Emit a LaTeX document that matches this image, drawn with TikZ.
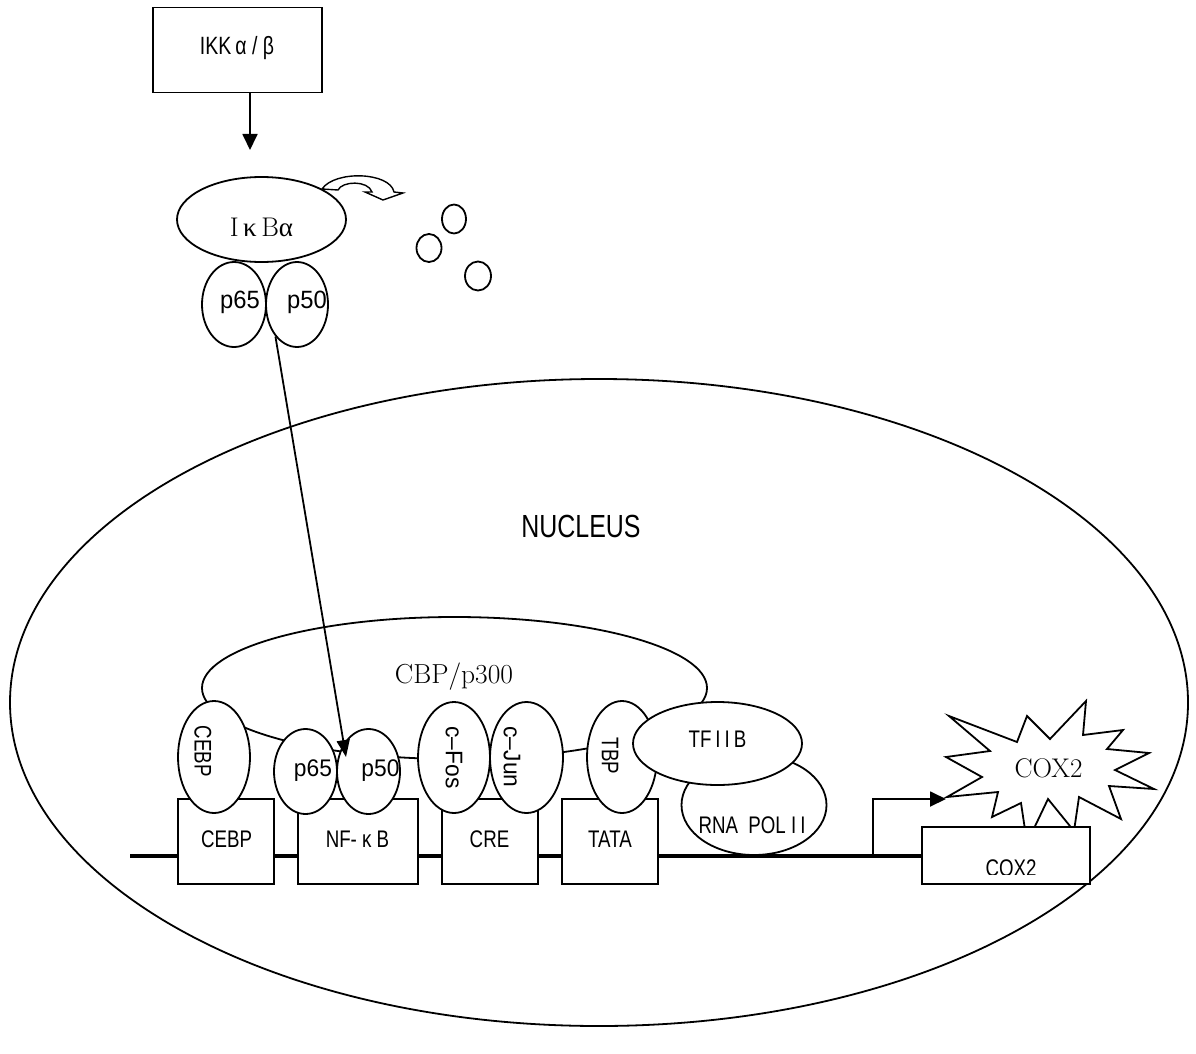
\documentclass[tikz,border=0pt]{standalone}
\usepackage{fontspec}
\usetikzlibrary{arrows.meta,shapes.geometric}
\newfontfamily\gul[FakeStretch=0.78]{Liberation Sans}
\newfontfamily\guld[FakeStretch=0.95]{Liberation Sans}
\newfontfamily\serg{Liberation Serif}
\newcommand\fsz[1]{\fontsize{#1}{#1}\selectfont}
\tikzset{
  ln/.style={line width=1.8pt},
  boxn/.style={draw, ln, fill=white, rectangle, inner sep=0pt},
  ell/.style={draw, ln, fill=white, ellipse, inner sep=0pt},
  lbl/.style={inner sep=0pt, anchor=base},
  rlbl/.style={inner sep=0pt, rotate=-90},
  arr/.style={ln, -{Triangle[width=15pt,length=16pt]}},
  dna/.style={line width=3.6pt},
}
\begin{document}
\begin{tikzpicture}[x=1pt,y=-1pt]
\useasboundingbox (0,0) rectangle (1196,1054);
\fill[white] (0,0) rectangle (1196,1054);

% nucleus
\node[ell, minimum width=1178pt, minimum height=647pt] (nucleus) at (599,702.5) {};
\node[lbl] (nucT) at (581,537) {\gul\fsz{32}NUCLEUS};

% CBP/p300
\node[ell, minimum width=505pt, minimum height=142pt] (cbp) at (454.5,688) {};
\node[lbl] (cbpT) at (454,683) {\fsz{27.5}CBP/p300};

% DNA
\coordinate (dnaL) at (130,856);
\node[boxn, minimum width=168pt, minimum height=57pt] (coxbox) at (1006,855.5) {};
\draw[dna] (dnaL) -- (dnaL -| coxbox.west);
\coordinate (tss) at (873,856);
\coordinate (ptip) at (946,799);
\draw[ln, -{Triangle[width=15pt,length=16pt]}] (tss) |- (ptip);

% promoter boxes
\node[boxn, minimum width=96pt, minimum height=85pt] (cebpbox) at (226,841.5) {};
\node[boxn, minimum width=120pt, minimum height=85pt] (nfkbbox) at (358,841.5) {};
\node[boxn, minimum width=96pt, minimum height=85pt] (crebox) at (490,841.5) {};
\node[boxn, minimum width=96pt, minimum height=85pt] (tatabox) at (610,841.5) {};
\node[lbl] at (226.5,847) {\gul\fsz{24}CEBP};
\node[lbl] at (357.5,847) {\gul\fsz{24}NF- κ B};
\node[lbl] at (489.5,847) {\gul\fsz{24}CRE};
\node[lbl] at (610,847) {\gul\fsz{24}TATA};

% bound proteins
\node[ell, minimum width=72pt, minimum height=112pt] (cebp) at (214,757) {};
\node[ell, minimum width=63pt, minimum height=85pt] (p65b) at (305.5,771.5) {};
\node[ell, minimum width=63pt, minimum height=85pt] (p50b) at (368.5,771.5) {};
\node[ell, minimum width=72pt, minimum height=111pt] (cfos) at (454,757.5) {};
\node[ell, minimum width=73pt, minimum height=111pt] (cjun) at (526.5,757.5) {};
\node[ell, minimum width=70pt, minimum height=112pt] (tbp) at (622,757) {};
\node[ell, minimum width=145pt, minimum height=100pt] (rnapol) at (754,805) {};
\node[ell, minimum width=169pt, minimum height=83pt] (tfiib) at (717.5,743.5) {};

\node[rlbl] (cebpT) at (203,751) {\gul\fsz{24}CEBP};
\node[lbl] (p65bT) at (313,776) {\guld\fsz{24}p65};
\node[lbl] (p50bT) at (380.5,776) {\guld\fsz{24}p50};
\node[rlbl] (cfosT) at (454,757.5) {\guld\fsz{24}c–Fos};
\node[rlbl] (cjunT) at (512,757) {\guld\fsz{24}c–Jun};
\node[rlbl] (tbpT) at (610,756) {\gul\fsz{24}TBP};
\node[lbl] (tfiibT) at (717.5,747) {\gul\fsz{24}TF\,I\,I\,B};
\node[lbl] (rnaT) at (752,833) {\gul\fsz{24}RNA\ \ POL\ I\,I};

% COX2 protein (star)
\draw[ln, fill=white] (949,716) -- (1017,742) -- (1027,716) -- (1050,739) -- (1086,701)
  -- (1083,735) -- (1123,730) -- (1107,749) -- (1149,753) -- (1115,770) -- (1154,789)
  -- (1109,786) -- (1121,819) -- (1079,797) -- (1074,831) -- (1048,799) -- (1027,843)
  -- (1021,803) -- (992,817) -- (998,792) -- (947,797) -- (982,777) -- (946,757)
  -- (990,751) -- cycle;
\node[lbl] (starT) at (1048.5,777) {\fsz{27}COX2};
\node[boxn, minimum width=168pt, minimum height=57pt] (coxbox2) at (1006,855.5) {};
\begin{scope}
  \clip (922,827) rectangle (1090,874);
  \node[lbl] (coxgT) at (1011,876.5) {\gul\fsz{24}COX2};
\end{scope}

% cytoplasm
\node[boxn, minimum width=169pt, minimum height=85pt] (ikk) at (237.5,50) {};
\node[lbl] (ikkT) at (237,55) {\gul\fsz{25}IKK\,α / β};
\coordinate (ikktip) at (250,150);
\draw[arr] (ikk.south -| ikktip) -- (ikktip);

\node[ell, minimum width=64pt, minimum height=85pt] (p65a) at (234,304.5) {};
\node[ell, minimum width=62pt, minimum height=85pt] (p50a) at (297,304.5) {};
\node[lbl] (p65aT) at (240,308) {\guld\fsz{25}p65};
\node[lbl] (p50aT) at (307,308) {\guld\fsz{25}p50};
\node[ell, minimum width=169pt, minimum height=85pt] (ikba) at (261.5,219.5) {};
\node[lbl] (ikbaT) at (261.5,236) {\fsz{27}I{\serg\,κ\,}B{\serg α}};

% degradation arrow
\draw[line width=1.4pt, fill=white] (322,189) -- (338,190)
  .. controls (342,181) and (368,180) .. (372,192) -- (365,192) -- (383,200)
  -- (403,193) -- (394,192) .. controls (390,172) and (335,170) .. (322,189) -- cycle;

\node[ell, minimum width=24pt, minimum height=29pt] (c1) at (454,219) {};
\node[ell, minimum width=25pt, minimum height=28pt] (c2) at (429,248) {};
\node[ell, minimum width=26pt, minimum height=29pt] (c3) at (478,276) {};

% translocation arrow
\coordinate (nftip) at (346,757);
\draw[ln, -{Triangle[width=13pt,length=17pt]}] (p50a.236) -- (nftip);
\end{tikzpicture}
\end{document}
